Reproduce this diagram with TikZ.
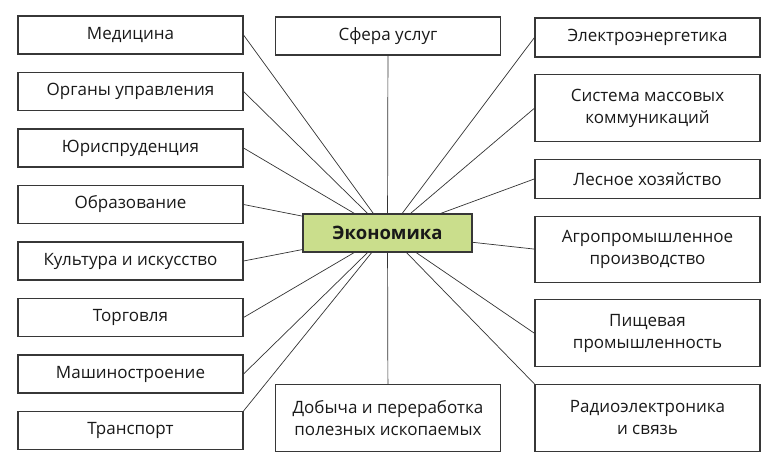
\documentclass[tikz,border=0pt]{standalone}
\usepackage{fontspec}
\setmainfont{Open Sans}
\usepackage{tikz}
\usetikzlibrary{positioning}

\definecolor{econgreen}{RGB}{202,222,140}
\definecolor{boxline}{RGB}{55,55,55}
\tikzset{
  sector/.style={draw=boxline, line width=1.1pt, minimum width=225pt, minimum height=38pt,
    inner sep=2pt, align=center, text=black!90, font=\fontsize{17}{22}\selectfont},
  tallsector/.style={sector, minimum height=67pt},
  core/.style={sector, fill=econgreen, minimum width=169pt, font=\bfseries\fontsize{18.5}{24}\selectfont},
  link/.style={draw=black!80, line width=0.7pt}
}

\begin{document}
\begin{tikzpicture}[x=1pt, y=-1pt, node distance=17.4pt]
\useasboundingbox (0,0) rectangle (768,470);

\node[core] (econ) at (387.5,233) {Экономика};

\node[sector] (med) at (130.5,35) {Медицина};
\node[sector, below=of med] (gov) {Органы управления};
\node[sector, below=of gov] (law) {Юриспруденция};
\node[sector, below=of law] (edu) {Образование};
\node[sector, below=of edu] (cult) {Культура и искусство};
\node[sector, below=of cult] (trade) {Торговля};
\node[sector, below=of trade] (mach) {Машиностроение};
\node[sector, below=of mach] (transp) {Транспорт};

\node[sector] (serv) at (388,36) {Сфера услуг};
\node[tallsector] (mining) at (388,418) {Добыча и переработка\\полезных ископаемых};

\node[sector, minimum height=39pt] (elec) at (647.5,37.5) {Электроэнергетика};
\node[tallsector, below=16.6pt of elec] (media) {Система массовых\\коммуникаций};
\node[sector, minimum height=39pt, below=16.6pt of media] (forest) {Лесное хозяйство};
\node[tallsector, minimum height=66pt, below=16.6pt of forest] (agro) {Агропромышленное\\производство};
\node[tallsector, below=16.6pt of agro] (food) {Пищевая\\промышленность};
\node[tallsector, below=16.6pt of food] (radio) {Радиоэлектроника\\и связь};

\draw[link] (serv) -- (econ);
\draw[link] (econ) -- (mining);

\foreach \n in {med, gov, law, edu, cult, trade, mach}
  \draw[link] (\n.east) -- (econ);
\draw[link] (transp.north east) -- (econ);

\foreach \n in {elec, media, forest, agro, food}
  \draw[link] (\n.west) -- (econ);
\draw[link] (radio.north west) -- (econ);
\end{tikzpicture}
\end{document}
